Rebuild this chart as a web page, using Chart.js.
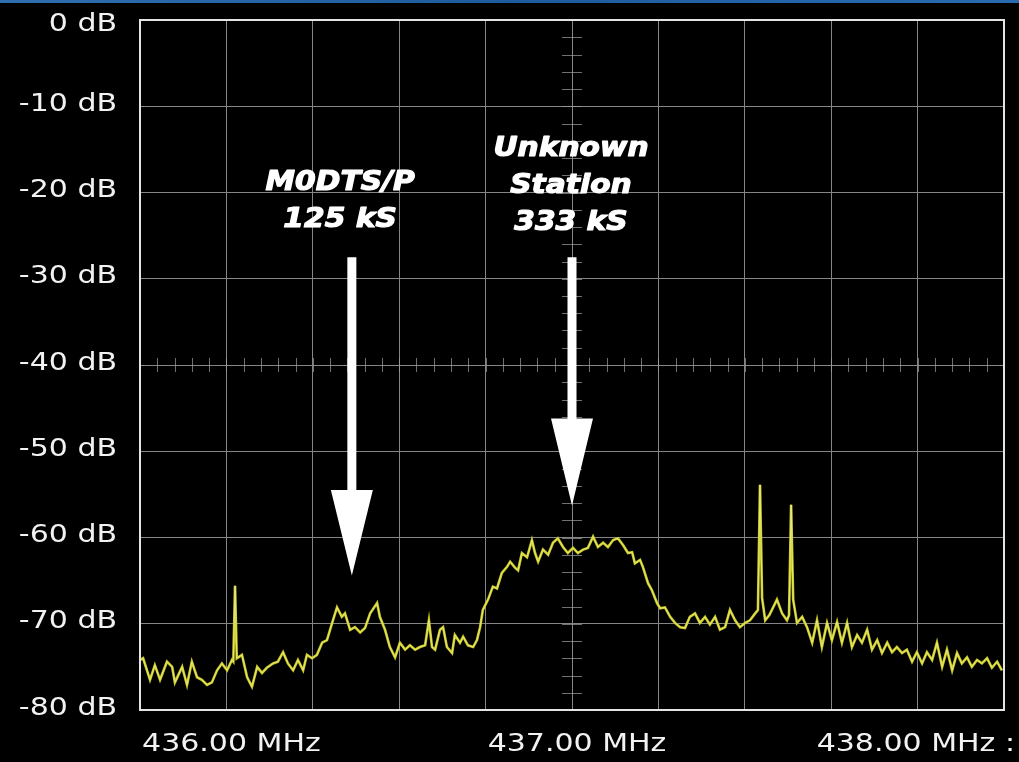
<!DOCTYPE html>
<html>
<head>
<meta charset="utf-8">
<title>Spectrum 436-438 MHz</title>
<script src="https://cdn.jsdelivr.net/npm/chart.js"></script>
<style>
    html, body { margin: 0; padding: 0; background: #000; }
    #wrap { position: relative; width: 1019px; height: 762px; overflow: hidden; }
    #topbar { position: absolute; left: 0; top: 0; width: 1019px; height: 3px;
              background: linear-gradient(90deg, #2f6fae, #1d5c9e 50%, #2a6bb0); z-index: 2; }
</style>
</head>
<body>
<div id="wrap">
    <div id="topbar"></div>
    <canvas id="spectrum" width="1019" height="762"></canvas>
</div>
<script>
// Frequency of each sample (MHz) and the level read at it (dB)
const freqMHz = [
    435.750, 435.759, 435.779, 435.793, 435.808, 435.828, 435.843, 435.851, 435.872, 435.886,
    435.900, 435.915, 435.929, 435.944, 435.958, 435.973, 435.987, 436.002, 436.016, 436.020,
    436.025, 436.030, 436.045, 436.060, 436.074, 436.089, 436.103, 436.117, 436.135, 436.149,
    436.164, 436.178, 436.193, 436.207, 436.222, 436.233, 436.248, 436.262, 436.277, 436.291,
    436.306, 436.320, 436.334, 436.343, 436.358, 436.372, 436.387, 436.401, 436.416, 436.436,
    436.444, 436.459, 436.473, 436.488, 436.502, 436.517, 436.531, 436.546, 436.560, 436.575,
    436.586, 436.595, 436.604, 436.618, 436.627, 436.638, 436.653, 436.661, 436.676, 436.685,
    436.699, 436.714, 436.725, 436.734, 436.742, 436.757, 436.771, 436.783, 436.797, 436.812,
    436.821, 436.835, 436.844, 436.855, 436.870, 436.884, 436.893, 436.902, 436.916, 436.931,
    436.945, 436.959, 436.974, 436.988, 437.003, 437.017, 437.032, 437.046, 437.061, 437.075,
    437.090, 437.104, 437.119, 437.133, 437.148, 437.162, 437.174, 437.182, 437.197, 437.205,
    437.220, 437.231, 437.246, 437.255, 437.269, 437.284, 437.298, 437.313, 437.327, 437.341,
    437.356, 437.370, 437.385, 437.399, 437.414, 437.428, 437.443, 437.457, 437.472, 437.486,
    437.501, 437.515, 437.530, 437.538, 437.544, 437.550, 437.559, 437.571, 437.582, 437.593,
    437.608, 437.622, 437.628, 437.634, 437.640, 437.651, 437.666, 437.680, 437.695, 437.709,
    437.723, 437.738, 437.752, 437.767, 437.781, 437.796, 437.810, 437.825, 437.839, 437.854,
    437.868, 437.883, 437.897, 437.912, 437.926, 437.940, 437.955, 437.969, 437.984, 437.998,
    438.013, 438.027, 438.042, 438.056, 438.071, 438.085, 438.100, 438.114, 438.128, 438.143,
    438.157, 438.172, 438.186, 438.201, 438.215, 438.230, 438.244
];
const levelDb = [
    -74.2, -74.0, -76.5, -74.8, -76.5, -74.4, -75.0, -76.8, -75.0, -77.1,
    -74.4, -76.2, -76.5, -77.1, -76.8, -75.4, -74.6, -75.4, -74.2, -74.4,
    -65.6, -74.0, -73.6, -76.2, -77.3, -75.0, -75.7, -75.1, -74.6, -74.4,
    -73.3, -74.6, -75.4, -74.2, -75.4, -73.6, -74.0, -73.6, -72.2, -71.9,
    -69.9, -68.1, -69.2, -68.8, -70.7, -70.4, -71.0, -70.5, -68.8, -67.6,
    -69.2, -70.7, -72.7, -73.9, -72.2, -73.0, -72.5, -73.0, -72.7, -72.5,
    -69.6, -72.7, -73.0, -70.7, -70.4, -72.7, -73.4, -71.3, -72.2, -71.5,
    -72.5, -72.7, -71.9, -70.4, -68.4, -67.2, -65.7, -65.9, -64.1, -63.4,
    -62.8, -63.5, -63.8, -61.8, -62.3, -60.3, -61.8, -62.8, -61.4, -62.0,
    -60.6, -60.1, -61.1, -61.8, -61.2, -61.8, -61.4, -61.2, -59.9, -61.1,
    -60.6, -61.1, -60.3, -60.1, -60.9, -61.8, -61.7, -63.0, -62.6, -63.4,
    -65.3, -66.1, -67.6, -68.2, -68.1, -69.2, -69.9, -70.4, -70.5, -69.2,
    -68.8, -69.9, -69.2, -70.1, -69.2, -70.7, -70.4, -68.4, -69.6, -70.4,
    -69.9, -69.6, -68.8, -68.4, -53.9, -67.0, -69.6, -69.0, -68.1, -67.2,
    -68.8, -69.6, -69.0, -56.2, -67.2, -69.9, -69.2, -70.4, -72.2, -69.6,
    -72.7, -69.9, -71.9, -69.8, -72.2, -69.9, -72.7, -71.3, -72.2, -70.7,
    -73.0, -71.9, -73.4, -72.2, -73.3, -72.7, -73.4, -73.0, -74.4, -73.3,
    -74.6, -73.3, -74.2, -72.2, -75.0, -73.0, -75.4, -73.4, -74.6, -73.9,
    -75.0, -74.2, -74.6, -74.0, -75.1, -74.4, -75.4
];

// Axis labels
const yTickValues = [0, -10, -20, -30, -40, -50, -60, -70, -80];
const xTickValues = [436, 437, 438];
const xTickLabels = ['436.00 MHz', '437.00 MHz', '438.00 MHz :'];

// Annotations on the plot
const markerNames = [['M0DTS/P', '125 kS'], ['Unknown', 'Station', '333 kS']];
const markerFreqs = [436.363, 437.0];

const LABEL_FONT = '25px "DejaVu Sans"';
const NOTE_FONT = 'italic bold 27px "DejaVu Sans"';

// texto esticado na horizontal, como no print original
function stretchedText(ctx, text, x, y, align, sx, bold) {
    ctx.save();
    ctx.translate(x, y);
    ctx.scale(sx, 1);
    ctx.textAlign = align;
    if (bold) {
        ctx.strokeStyle = ctx.fillStyle;
        ctx.lineWidth = 1.2;
        ctx.lineJoin = 'round';
        ctx.strokeText(text, 0, 0);
    }
    ctx.fillText(text, 0, 0);
    ctx.restore();
}

function drawArrow(ctx, x, yTop, yHead, yTip) {
    const shaft = 4.5, head = 21;
    ctx.beginPath();
    ctx.moveTo(x - shaft, yTop);
    ctx.lineTo(x + shaft, yTop);
    ctx.lineTo(x + shaft, yHead);
    ctx.lineTo(x + head, yHead);
    ctx.lineTo(x, yTip);
    ctx.lineTo(x - head, yHead);
    ctx.lineTo(x - shaft, yHead);
    ctx.closePath();
    ctx.fill();
}

const scopePlugin = {
    id: 'scopeOverlay',
    beforeDatasetsDraw(chart) {
        // minor ticks on the centre cross
        const { ctx, chartArea: a, scales: { x, y } } = chart;
        const cx = x.getPixelForValue(437.0);
        const cy = y.getPixelForValue(-40);
        ctx.save();
        ctx.strokeStyle = 'rgba(160,160,160,0.7)';
        ctx.lineWidth = 1;
        ctx.beginPath();
        for (let f = 435.75; f <= 438.25 + 1e-6; f += 0.05) {
            const px = Math.round(x.getPixelForValue(f)) + 0.5;
            if (px <= a.left + 2 || px >= a.right - 2) continue;
            ctx.moveTo(px, cy - 7);
            ctx.lineTo(px, cy + 7);
        }
        for (let d = 0; d >= -80 - 1e-6; d -= 2) {
            const py = Math.round(y.getPixelForValue(d)) + 0.5;
            if (py <= a.top + 2 || py >= a.bottom - 2) continue;
            ctx.moveTo(cx - 10, py);
            ctx.lineTo(cx + 10, py);
        }
        ctx.stroke();
        ctx.restore();
    },
    afterDatasetsDraw(chart) {
        const { ctx, chartArea: a, scales: { x, y } } = chart;
        ctx.save();
        // frame
        ctx.strokeStyle = '#e4e4e4';
        ctx.lineWidth = 2;
        ctx.strokeRect(a.left, a.top, a.right - a.left, a.bottom - a.top);

        // arrows
        ctx.fillStyle = '#ffffff';
        drawArrow(ctx, x.getPixelForValue(markerFreqs[0]), y.getPixelForValue(-27.5),
            y.getPixelForValue(-54.5), y.getPixelForValue(-64.4));
        drawArrow(ctx, x.getPixelForValue(markerFreqs[1]), y.getPixelForValue(-27.5),
            y.getPixelForValue(-46.2), y.getPixelForValue(-56.3));

        // annotation text
        ctx.font = NOTE_FONT;
        ctx.textBaseline = 'middle';
        const noteX = [436.329, 436.997];
        const noteTop = [-18.9, -15.0];
        markerNames.forEach((lines, i) => {
            lines.forEach((t, j) => {
                const py = y.getPixelForValue(noteTop[i]) + j * 37;
                stretchedText(ctx, t, x.getPixelForValue(noteX[i]), py, 'center', 1.1, true);
            });
        });
        ctx.restore();
    },
    afterDraw(chart) {
        const { ctx, chartArea: a, scales: { x, y }, width } = chart;
        ctx.save();
        ctx.fillStyle = '#f2f2f2';
        ctx.font = LABEL_FONT;
        ctx.textBaseline = 'middle';
        yTickValues.forEach(v => {
            const py = y.getPixelForValue(v) + (v === 0 ? 4 : -2);
            stretchedText(ctx, v + ' dB', a.left - 23, py, 'right', 1.2, false);
        });
        xTickValues.forEach((v, i) => {
            const w = ctx.measureText(xTickLabels[i]).width * 1.2;
            let cxp = x.getPixelForValue(v) + 5;
            if (cxp + w / 2 > width - 4) cxp = width - 4 - w / 2;
            stretchedText(ctx, xTickLabels[i], cxp, a.bottom + 34, 'center', 1.2, false);
        });
        ctx.restore();
    }
};

const points = freqMHz.map((f, i) => ({ x: f, y: levelDb[i] }));

const ctx = document.getElementById('spectrum').getContext('2d');
const chart = new Chart(ctx, {
    type: 'line',
    data: {
        datasets: [
            {
                // light core of the trace, drawn on top
                data: points,
                borderColor: 'rgba(248,248,190,0.75)',
                borderWidth: 0.8,
                pointRadius: 0,
                tension: 0
            },
            {
                data: points,
                borderColor: '#c9c91c',
                borderWidth: 2.6,
                pointRadius: 0,
                tension: 0
            }
        ]
    },
    options: {
        responsive: false,
        animation: false,
        layout: { padding: { left: 140, top: 20, right: 15, bottom: 52 } },
        plugins: {
            legend: { display: false },
            tooltip: { enabled: false }
        },
        scales: {
            x: {
                type: 'linear',
                min: 435.75,
                max: 438.25,
                ticks: { display: false, stepSize: 0.25 },
                grid: { color: '#858585', lineWidth: 1, drawTicks: false },
                border: { display: false }
            },
            y: {
                min: -80,
                max: 0,
                ticks: { display: false, stepSize: 10 },
                grid: { color: '#858585', lineWidth: 1, drawTicks: false },
                border: { display: false }
            }
        }
    },
    plugins: [scopePlugin]
});
</script>
</body>
</html>
